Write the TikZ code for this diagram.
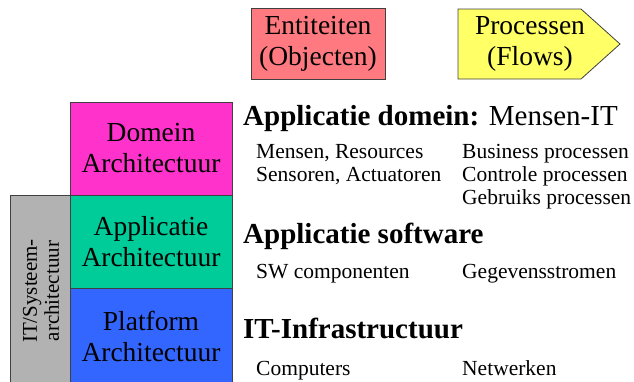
\documentclass[tikz,border=0pt]{standalone}
\usepackage{fontspec}
\setmainfont{Liberation Serif}

\definecolor{entityred}{RGB}{255,122,128}
\definecolor{flowyellow}{RGB}{255,255,102}
\definecolor{domainpink}{RGB}{255,51,204}
\definecolor{appgreen}{RGB}{0,204,153}
\definecolor{platblue}{RGB}{51,102,255}
\definecolor{itgrey}{RGB}{178,178,178}

\tikzset{
  edge/.style={draw=black!75, line width=0.8pt},
  layer/.style={edge, inner sep=0, minimum width=162,
    align=center, font=\fontsize{27.5}{31}\selectfont},
  head/.style={anchor=base west, inner sep=0, font=\fontsize{29}{32}\selectfont},
  item/.style={anchor=base west, inner sep=0, font=\fontsize{21.5}{23}\selectfont}
}

\begin{document}
\begin{tikzpicture}[x=1pt, y=-1pt]
\useasboundingbox (0,0) rectangle (634,381);

% Legend at the top
\node[layer, fill=entityred, minimum width=134, minimum height=71] (ent) at (318,44)
  {Entiteiten\\(Objecten)};
\filldraw[edge, fill=flowyellow] (458,9) -- (581,9) -- (620,44) -- (581,79) -- (458,79) -- cycle;
\node[align=center, inner sep=0, font=\fontsize{27.5}{31}\selectfont] (proc) at (530,44)
  {Processen\\(Flows)};

% Layer stack
\node[layer, fill=domainpink, minimum height=93] (dom) at (151,148.5) {Domein\\Architectuur};
\node[layer, fill=appgreen, minimum height=93] (app) at (151,241.5) {Applicatie\\Architectuur};
\node[layer, fill=platblue, minimum height=96] (plat) at (151,336) {Platform\\Architectuur};
\node[layer, fill=itgrey, minimum width=60, minimum height=189] (its) at (40,289.5) {};
\node[rotate=90, align=center, inner sep=0, font=\fontsize{21}{22}\selectfont] (itsText)
  at (41,291) {IT/Systeem-\\architectuur};

% Application domain
\node[head] (hDom) at (243,125) {\bfseries Applicatie domein: \mdseries Mensen-IT};
\node[item] (mens) at (256,158) {Mensen, Resources};
\node[item] (sens) at (256,181) {Sensoren, Actuatoren};
\node[item] (bus) at (462,158) {Business processen};
\node[item] (ctrl) at (462,181) {Controle processen};
\node[item] (gebr) at (462,204) {Gebruiks processen};

% Application software
\node[head] (hSw) at (243,243) {\bfseries Applicatie software};
\node[item] (swc) at (256,278) {SW componenten};
\node[item] (gstr) at (462,278) {Gegevensstromen};

% Infrastructure
\node[head] (hInf) at (243,338) {\bfseries IT-Infrastructuur};
\node[item] (comp) at (256,375) {Computers};
\node[item] (netw) at (462,375) {Netwerken};

\end{tikzpicture}
\end{document}
